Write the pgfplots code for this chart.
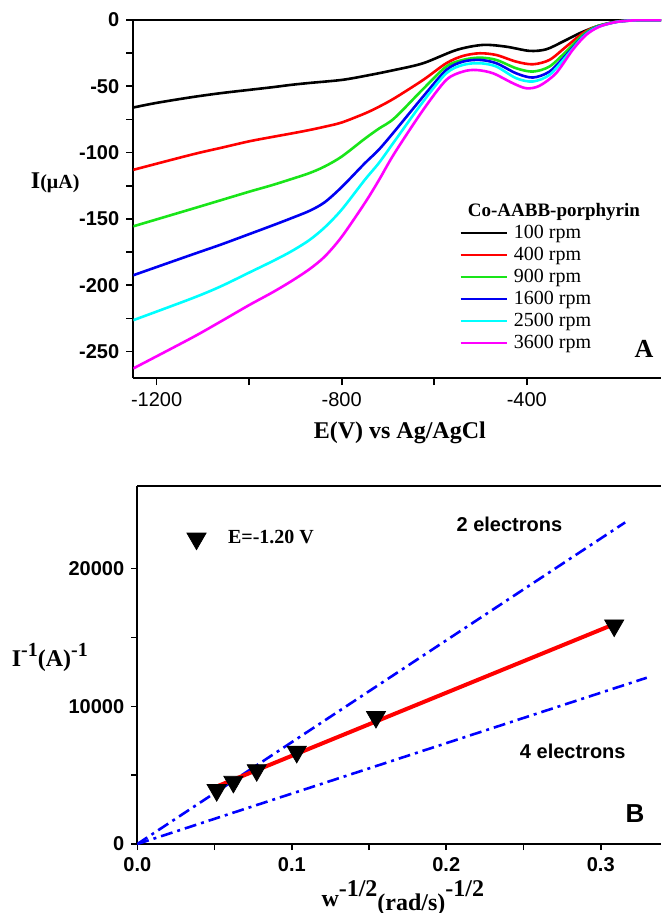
\documentclass[border=0pt]{standalone}
\usepackage{fontspec}
\setmainfont{Liberation Serif}
\setsansfont{Liberation Sans}
\usepackage{pgfplots}
\pgfplotsset{compat=1.18}
\definecolor{cgreen}{rgb}{0.1,0.9,0.1}
\definecolor{cblue}{rgb}{0,0,0.95}
\definecolor{ccyan}{rgb}{0,1,1}
\definecolor{cmag}{rgb}{1,0,1}
\begin{document}
\begin{tikzpicture}
\path[use as bounding box] (0pt,0pt) rectangle (330.5pt,-456.5pt);

% ---------------- panel A: RDE curves
\begin{axis}[
  at={(66.65pt,-189pt)}, anchor=south west,
  scale only axis, width=263.85pt, height=179pt,
  xmin=-1250.4, xmax=-110, ymin=-270, ymax=0,
  axis x line=box, axis y line=left,
  axis line style={-, line width=1pt},
  xtick={-1200,-800,-400}, ytick={-250,-200,-150,-100,-50,0},
  minor x tick num=1, minor y tick num=1,
  tick align=outside, xtick pos=left, ytick pos=left,
  major tick length=3.5pt, minor tick length=3.5pt,
  every tick/.style={black, line width=0.8pt},
  /pgf/number format/assume math mode=true,
  /pgf/number format/1000 sep={},
  xticklabel style={font=\sffamily\fontsize{10}{12}\selectfont},
  yticklabel style={font=\sffamily\bfseries\fontsize{10}{12}\selectfont},
  xlabel={E(V) vs Ag/AgCl},
  every axis x label/.style={at={(rel axis cs:0.505,-0.152)}, anchor=center,
    font=\bfseries\fontsize{12}{14}\selectfont},
  ylabel={I{\fontsize{10}{12}\selectfont(μA)}},
  every axis y label/.style={at={(rel axis cs:-0.148,0.545)}, anchor=center,
    font=\bfseries\fontsize{12}{14}\selectfont},
  legend style={at={(rel axis cs:0.617,0.434)}, anchor=north west,
    draw=none, fill=none, inner sep=0pt, row sep=1pt, column sep=3pt,
    font=\fontsize{10}{12}\selectfont,
    nodes={inner sep=0pt, text height=7.5pt, text depth=2.5pt}},
  legend cell align=left,
  legend image code/.code={\draw[#1] (0pt,0pt) -- (23pt,0pt);},
]
\addplot[black, line width=1.3pt, smooth] coordinates {(-1250.4,-66) (-1200,-62.5)
  (-1124,-58.2) (-1062,-55.2) (-1000,-52.7) (-950,-50.7) (-909,-48.9) (-870,-47.5)
  (-800,-45.2) (-750,-42.2) (-686,-37.7) (-624,-32.6) (-552,-22.6)
  (-495,-18.8) (-445,-20.1) (-394,-23.3) (-358,-22.1) (-322,-16.3) (-286,-10)
  (-250,-5) (-207,-1.3) (-178,-0.4) (-150,0) (-110,0)};
\addlegendentry{100 rpm}
\addplot[red, line width=1.3pt, smooth] coordinates {(-1250.4,-113) (-1124,-101.5)
  (-1062,-96.5) (-1000,-91.5) (-950,-88.2) (-909,-85.6) (-870,-83) (-837,-80.5)
  (-800,-77.3) (-750,-70.5) (-720,-65.5) (-686,-59) (-624,-45.2) (-574,-32.6)
  (-538,-27.1) (-502,-25.1) (-466,-26.4) (-423,-31.4) (-387,-33.4) (-351,-30.1)
  (-315,-20.1) (-279,-10) (-250,-5) (-207,-1.3) (-171,-0.2) (-150,0) (-110,0)};
\addlegendentry{400 rpm}
\addplot[cgreen, line width=1.3pt, smooth] coordinates {(-1250.4,-155.6) (-1124,-142.5)
  (-1062,-136) (-1000,-129.5) (-950,-124.5) (-909,-120) (-870,-115.5) (-837,-110.5)
  (-800,-103) (-750,-89.5) (-720,-82) (-686,-74) (-624,-52) (-574,-35.1)
  (-538,-30.1) (-502,-28.4) (-466,-30.1) (-423,-36.4) (-387,-38.9) (-351,-35.1)
  (-315,-23.8) (-279,-11.3) (-250,-5) (-207,-1.3) (-171,-0.2) (-150,0) (-110,0)};
\addlegendentry{900 rpm}
\addplot[cblue, line width=1.3pt, smooth] coordinates {(-1250.4,-192.5) (-1124,-177)
  (-1062,-169.5) (-1000,-161.5) (-950,-155) (-909,-149.5) (-870,-144) (-837,-137.5)
  (-800,-126) (-750,-108) (-720,-97.9) (-686,-84) (-624,-57.7) (-574,-37.7)
  (-538,-31.4) (-502,-30.1) (-466,-32.6) (-423,-40.2) (-387,-43.4) (-351,-38.9)
  (-315,-26.4) (-279,-12.6) (-250,-5.5) (-207,-1.5) (-171,-0.3) (-150,0) (-110,0)};
\addlegendentry{1600 rpm}
\addplot[ccyan, line width=1.3pt, smooth] coordinates {(-1250.4,-226.4) (-1124,-210)
  (-1062,-201) (-1000,-190.5) (-950,-182) (-909,-174.5) (-870,-166) (-837,-156.5)
  (-800,-143) (-750,-120.5) (-720,-108) (-686,-91.5) (-624,-61.5) (-574,-40.2)
  (-538,-33.9) (-502,-32.6) (-466,-35.1) (-423,-43.9) (-387,-46.4) (-351,-41.4)
  (-315,-27.6) (-279,-13) (-250,-5.8) (-207,-1.5) (-171,-0.3) (-150,0) (-110,0)};
\addlegendentry{2500 rpm}
\addplot[cmag, line width=1.3pt, smooth] coordinates {(-1250.4,-262.8) (-1124,-239.7)
  (-1062,-227.5) (-1000,-215) (-950,-205.5) (-909,-197) (-870,-188) (-837,-178.5)
  (-800,-163.5) (-750,-138) (-720,-121) (-686,-100.5) (-624,-67.8) (-574,-45.2)
  (-538,-38.9) (-509,-37.7) (-473,-40.2) (-430,-47.7) (-401,-51.5) (-373,-49.7)
  (-337,-40.2) (-301,-22.6) (-272,-11.3) (-243,-5) (-207,-1.5) (-171,-0.3) (-150,0) (-110,0)};
\addlegendentry{3600 rpm}
\node[font=\bfseries\fontsize{9.5}{11}\selectfont] at (rel axis cs:0.797,0.4645) {Co-AABB-porphyrin};
\node[font=\bfseries\fontsize{13}{14}\selectfont] at (rel axis cs:0.968,0.082) {A};
\end{axis}

% ---------------- panel B: Koutecky-Levich
\begin{axis}[
  at={(68.65pt,-422pt)}, anchor=south west,
  scale only axis, width=261.85pt, height=179pt,
  xmin=0, xmax=0.339, ymin=0, ymax=26000,
  axis x line=box, axis y line=left,
  axis line style={-, line width=1pt},
  xtick={0,0.1,0.2,0.3}, ytick={0,10000,20000},
  minor x tick num=1, minor y tick num=1,
  tick align=outside, xtick pos=left, ytick pos=left,
  major tick length=3pt, minor tick length=3pt,
  every tick/.style={black, line width=0.8pt},
  /pgf/number format/assume math mode=true,
  xticklabel style={font=\sffamily\bfseries\fontsize{10}{12}\selectfont,
    /pgf/number format/.cd, fixed, fixed zerofill, precision=1},
  yticklabel style={font=\sffamily\bfseries\fontsize{10}{12}\selectfont,
    /pgf/number format/.cd, fixed, 1000 sep={}},
  scaled x ticks=false, scaled y ticks=false,
  xlabel={w\raisebox{0.9ex}{-1/2}\raisebox{-0.3ex}{(rad/s)}\raisebox{0.9ex}{-1/2}},
  every axis x label/.style={at={(rel axis cs:0.507,-0.151)}, anchor=center,
    font=\bfseries\fontsize{12}{14}\selectfont},
  ylabel={I\raisebox{0.9ex}{\fontsize{10}{12}\selectfont -1}(A)\raisebox{0.9ex}{\fontsize{10}{12}\selectfont -1}},
  every axis y label/.style={at={(rel axis cs:-0.167,0.522)}, anchor=center,
    font=\bfseries\fontsize{12}{14}\selectfont},
  legend style={at={(axis cs:0.0319,22077)}, anchor=west,
    draw=none, fill=none, inner sep=0pt, column sep=11pt,
    font=\bfseries\fontsize{10}{12}\selectfont,
    nodes={inner sep=0pt}},
  legend image code/.code={\draw[#1] plot coordinates {(0pt,0pt)};},
]
\addplot[blue, line width=1.3pt, dash pattern=on 6pt off 2.5pt on 1.5pt off 2.5pt, forget plot]
  coordinates {(0,0) (0.3158,23357)};
\addplot[blue, line width=1.3pt, dash pattern=on 6pt off 2.5pt on 1.5pt off 2.5pt, forget plot]
  coordinates {(0,0) (0.3298,12077)};
\addplot[only marks, black, mark=triangle*, mark size=5.5pt,
  mark options={rotate=180, fill=black}]
  coordinates {(0.0514,3913) (0.0622,4517) (0.0773,5362) (0.1032,6691) (0.1545,9227) (0.3087,15870)};
\addlegendentry{E=-1.20 V}
\addplot[red, line width=2pt, forget plot] coordinates {(0.0509,4155) (0.3082,15942)};
\node[font=\sffamily\bfseries\fontsize{10}{12}\selectfont] at (axis cs:0.2409,23237) {2 electrons};
\node[font=\sffamily\bfseries\fontsize{10}{12}\selectfont] at (axis cs:0.2819,6763) {4 electrons};
\node[font=\sffamily\bfseries\fontsize{13}{14}\selectfont] at (axis cs:0.3222,2222) {B};
\end{axis}
\end{tikzpicture}
\end{document}
